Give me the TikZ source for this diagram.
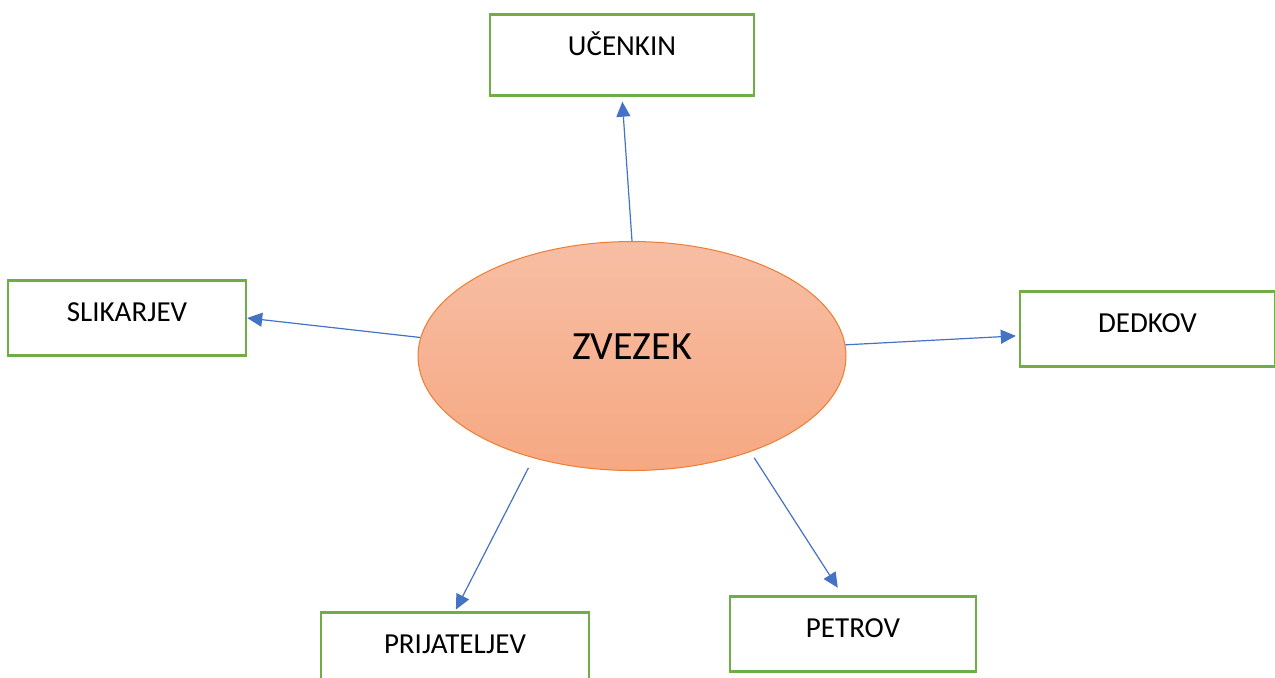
\documentclass[tikz,border=0pt]{standalone}
\usepackage{fontspec}
\setmainfont{Carlito}
\usepackage{tikz}
\usetikzlibrary{
        arrows.meta,
        positioning,
        shapes.geometric
    }
\definecolor{boxgreen}{RGB}{112,173,71}
\definecolor{linkblue}{RGB}{68,114,196}
\definecolor{rimorange}{RGB}{237,125,49}
\definecolor{salmontop}{RGB}{247,190,164}
\definecolor{salmonbot}{RGB}{246,168,130}
\tikzset{>={Triangle[length=7.5pt,width=7pt]},shorten >=1pt}
\tikzset{word/.style={draw=boxgreen,line width=1.2pt,rectangle,inner sep=0pt,
        text height=20.5pt,text depth=17pt,font=\fontsize{14.5}{16}\selectfont}}

\begin{document}
\begin{tikzpicture}[x=0.5pt,y=-0.5pt]
                \useasboundingbox (0,0) rectangle (1275,677);
                \node[ellipse,draw=rimorange,line width=0.5pt,top color=salmontop,bottom color=salmonbot,
                        minimum width=214pt,minimum height=114.5pt,inner sep=0pt,
                        text height=13.3pt,text depth=10pt,font=\fontsize{20}{24}\selectfont]
                        (z) at (632,356) {ZVEZEK};
                \node[word,minimum width=132pt,text height=20.5pt,text depth=20pt] (u) at (622,55) {UČENKIN};
                \node[word,minimum width=119pt] (s) at (127,318) {SLIKARJEV};
                \node[word,minimum width=127.5pt] (d) at (1147.5,329) {DEDKOV};
                \node[word,minimum width=134pt] (p) at (455,650) {PRIJATELJEV};
                \node[word,minimum width=123pt] (pe) at (853,634) {PETROV};
                \path[->,color=linkblue,line width=0.6pt]
                        (z.north)  edge [shorten >=2.5pt] (u.south)
                        (z.175)  edge [shorten >=0pt] (s.east)
                        (z.3)  edge [shorten >=1.5pt] (d.183)
                        (z.-134)  edge [shorten <=5.5pt] (p.north)
                        (z.-39)  edge [shorten <=3.5pt,shorten >=4.5pt] (pe.105)
                ;
            \end{tikzpicture}
\end{document}
